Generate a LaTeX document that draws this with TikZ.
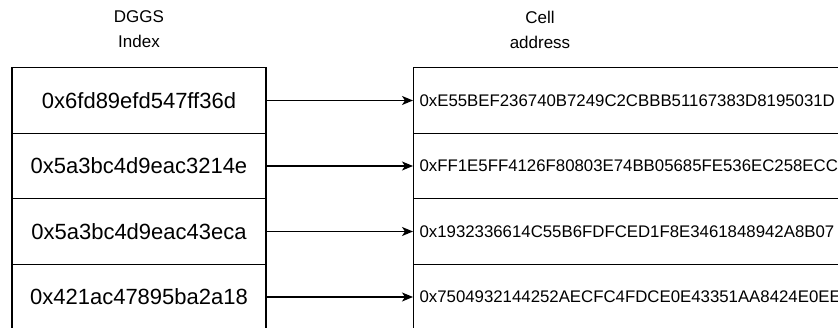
\documentclass[tikz,border=0pt]{standalone}
\usepackage{fontspec}
\setmainfont{Liberation Sans}
\usepackage{xcolor}
\usepackage{tikz}
\usetikzlibrary{
  arrows.meta,
  positioning
}

\begin{document}
\begin{tikzpicture}[x=1pt,y=-1pt,
    idxcell/.style={draw,line width=1.2pt,rectangle,minimum width=254pt,
      minimum height=65.5pt,inner sep=0pt,
      font=\fontsize{22}{26}\selectfont},
    addrcell/.style={draw,line width=1.2pt,rectangle,anchor=west,
      minimum height=65.5pt,text width=520pt,align=left,inner xsep=6pt,
      inner ysep=0pt,font=\fontsize{16.8}{20}\selectfont},
    heading/.style={align=center,font=\fontsize{17}{25}\selectfont},
    maplink/.style={line width=1.2pt,-{Stealth[length=11pt,width=9pt,inset=3pt]}}]
  % Frame
  \path[use as bounding box] (0,0) rectangle (838,328);
  \clip (0,0) rectangle (838,328);
  % Headings
  \node[heading] (idxhead) at (139,29.5) {DGGS\\Index};
  \node[heading] (addrhead) at (540,29.5) {Cell\\address};
  % Rows of the mapping
  \foreach \i/\idx/\addr in {
      1/0x6fd89efd547ff36d/0xE55BEF236740B7249C2CBBB51167383D8195031D,
      2/0x5a3bc4d9eac3214e/0xFF1E5FF4126F80803E74BB05685FE536EC258ECC,
      3/0x5a3bc4d9eac43eca/0x1932336614C55B6FDFCED1F8E3461848942A8B07,
      4/0x421ac47895ba2a18/0x7504932144252AECFC4FDCE0E43351AA8424E0EE} {
    \node[idxcell] (idx\i) at (139,{100.5+65.5*(\i-1)}) {\idx};
    \node[addrcell] (addr\i) at (413,{100.5+65.5*(\i-1)}) {\addr};
    \draw[maplink] (idx\i) -- (addr\i);
  }
\end{tikzpicture}
\end{document}
